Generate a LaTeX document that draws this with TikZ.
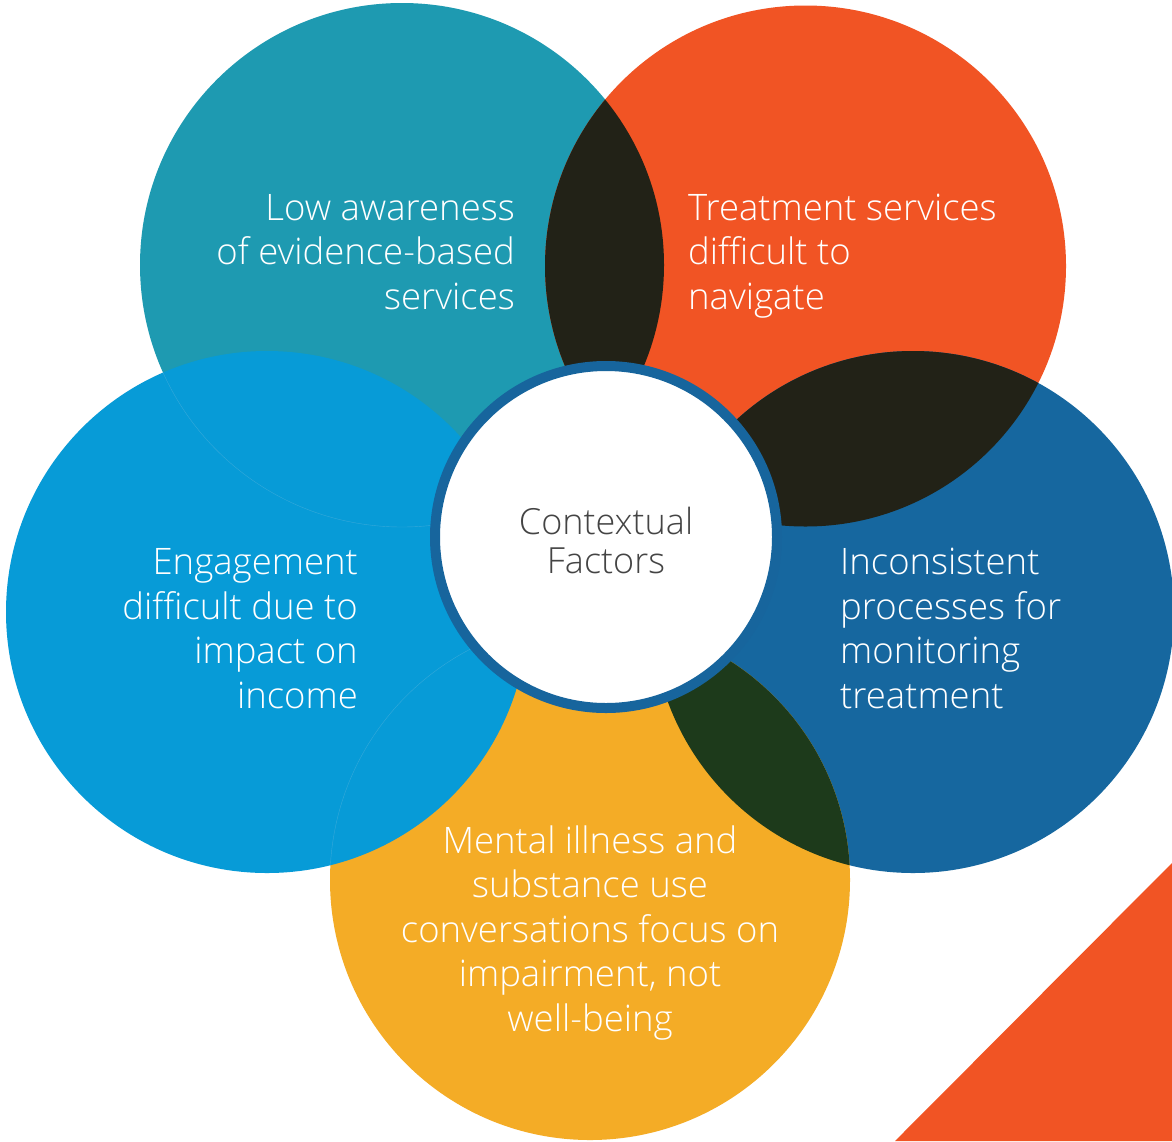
\documentclass[tikz,border=0pt]{standalone}
\usepackage{fontspec}
\setmainfont{Open Sans}[UprightFont={* Light}]
\definecolor{cTeal}{HTML}{1E9AB1}
\definecolor{cOrange}{HTML}{F15424}
\definecolor{cNavy}{HTML}{16679F}
\definecolor{cYellow}{HTML}{F4AC26}
\definecolor{cSky}{HTML}{079BD7}
\definecolor{cDark}{HTML}{222217}
\definecolor{cGreen}{HTML}{1D3A1B}
\definecolor{cRing}{HTML}{17659D}
\definecolor{cText}{HTML}{444444}
\definecolor{cFaint}{HTML}{35A9DA}
\begin{document}
\begin{tikzpicture}[x=1pt,y=-1pt,
  lbl/.style={text=white, font=\fontsize{36.5}{44.5}\selectfont, inner sep=0pt},
  hub/.style={circle, fill=white, draw=cRing, line width=10pt, minimum size=342pt, inner sep=0pt}]
\useasboundingbox (0,0) rectangle (1172,1141);
\fill[white] (0,0) rectangle (1172,1141);
% circles
\fill[cTeal]   (402,265) circle[radius=262pt];
\fill[cOrange] (805.5,266) circle[radius=260.5pt];
\fill[cNavy]   (913,612) circle[radius=261pt];
\fill[cYellow] (590,880) circle[radius=260pt];
\fill[cSky]    (267,612) circle[radius=261pt];
% overlaps
\begin{scope}
  \clip (402,265) circle[radius=262pt];
  \fill[cDark] (805.5,266) circle[radius=260.5pt];
\end{scope}
\begin{scope}
  \clip (805.5,266) circle[radius=260.5pt];
  \fill[cDark] (913,612) circle[radius=261pt];
\end{scope}
\begin{scope}
  \clip (913,612) circle[radius=261pt];
  \fill[cGreen] (590,880) circle[radius=260pt];
\end{scope}
% faint edges under the sky circle
\begin{scope}
  \clip (267,612) circle[radius=261pt];
  \draw[cFaint, line width=0.4pt] (402,265) circle[radius=262pt];
  \draw[cFaint, line width=0.4pt] (590,880) circle[radius=260pt];
\end{scope}
% corner triangle
\fill[cOrange] (895,1141) -- (1172,1141) -- (1172,863) -- cycle;
% hub
\node[hub] (hub) at (606,537) {};
\node[text=cText, font=\fontsize{36}{38.3}\selectfont, align=center, inner sep=0pt, anchor=base] (hubtxt) at (606,573) {Contextual\\Factors};
% labels
\node[lbl, align=right, anchor=base east] (t1) at (515,309) {Low awareness\\of evidence-based\\services};
\node[lbl, align=left, anchor=base west] (t2) at (688,309) {Treatment services\\difficult to\\navigate};
\node[lbl, align=left, anchor=base west] (t3) at (840,708) {Inconsistent\\processes for\\monitoring\\treatment};
\node[lbl, align=center, anchor=base] (t4) at (590,1031) {Mental illness and\\substance use\\conversations focus on\\impairment, not\\well-being};
\node[lbl, align=right, anchor=base east] (t5) at (358,708) {Engagement\\difficult due to\\impact on\\income};
\end{tikzpicture}
\end{document}
